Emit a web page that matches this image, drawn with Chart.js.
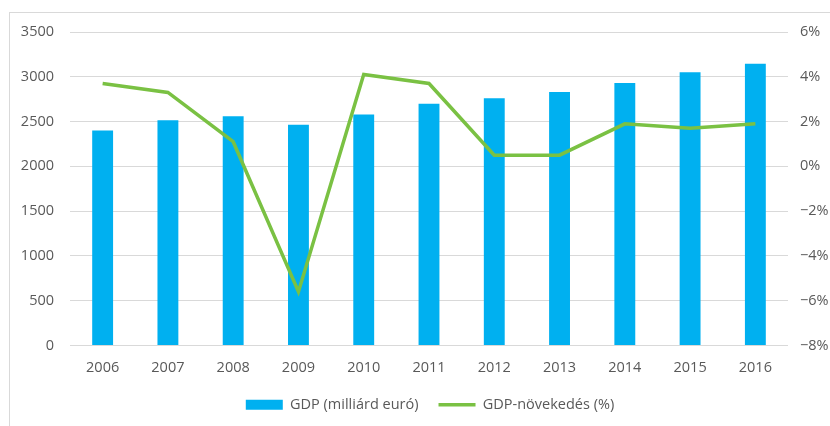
<!DOCTYPE html>
<html>
<head>
<meta charset="utf-8">
<script src="https://cdn.jsdelivr.net/npm/chart.js@4.4.1/dist/chart.umd.min.js"></script>
<style>
  html, body { margin: 0; padding: 0; background: #fff; }
  #wrap { position: relative; width: 830px; height: 426px; }
  #frame { position: absolute; left: 9px; top: 12px; right: 0; bottom: 0;
           border-left: 1px solid #d9d9d9; border-top: 1px solid #d9d9d9; }
  canvas { position: absolute; left: 0; top: 0; }
</style>
</head>
<body>
<div id="wrap">
  <div id="frame"></div>
  <canvas id="gdpChart" width="830" height="426"></canvas>
</div>
<script>
// data
const years = ['2006', '2007', '2008', '2009', '2010', '2011', '2012', '2013', '2014', '2015', '2016'];
const gdpValues = [2400, 2515, 2560, 2465, 2580, 2700, 2760, 2830, 2930, 3050, 3145];
const growthValues = [3.7, 3.3, 1.1, -5.6, 4.1, 3.7, 0.5, 0.5, 1.9, 1.7, 1.9];
const gdpTicks = [0, 500, 1000, 1500, 2000, 2500, 3000, 3500];
const growthTicks = [-8, -6, -4, -2, 0, 2, 4, 6];

const textColor = '#595959';
const tickFont = { family: 'Open Sans', size: 14.5 };

// the legend sits a little right of the canvas centre in the original
const legendShift = {
    id: 'legendShift',
    afterLayout: function (chart) { chart.legend.left += 30; }
};

const ctx = document.getElementById('gdpChart').getContext('2d');
new Chart(ctx, {
    type: 'bar',
    data: {
        labels: years,
        datasets: [
            {
                type: 'line',
                label: 'GDP-növekedés (%)',
                data: growthValues,
                yAxisID: 'y1',
                borderColor: '#7AC143',
                backgroundColor: '#7AC143',
                borderWidth: 3.5,
                pointRadius: 0,
                pointStyle: 'line',
                tension: 0,
                order: 0
            },
            {
                label: 'GDP (milliárd euró)',
                data: gdpValues,
                yAxisID: 'y',
                backgroundColor: '#00B0F0',
                pointStyle: 'rect',
                barPercentage: 0.32,
                categoryPercentage: 1.0,
                order: 1
            }
        ]
    },
    options: {
        responsive: false,
        animation: false,
        layout: { padding: { top: 32, bottom: 4, left: 0, right: 0 } },
        scales: {
            x: {
                offset: true,
                grid: { display: false },
                border: { display: false },
                ticks: { color: textColor, font: tickFont, padding: 6 },
                afterFit: function (scale) { scale.height = 32; }
            },
            y: {
                position: 'left',
                min: gdpTicks[0],
                max: gdpTicks[gdpTicks.length - 1],
                afterBuildTicks: function (scale) { scale.ticks = gdpTicks.map(v => ({ value: v })); },
                grid: { color: '#d9d9d9', lineWidth: 1, drawTicks: false },
                border: { display: false },
                ticks: {
                    color: textColor, font: tickFont, padding: 16,
                    callback: function (v) { return String(v); }
                },
                afterFit: function (scale) { scale.width = 70; }
            },
            y1: {
                position: 'right',
                min: growthTicks[0],
                max: growthTicks[growthTicks.length - 1],
                afterBuildTicks: function (scale) { scale.ticks = growthTicks.map(v => ({ value: v })); },
                grid: { display: false, drawTicks: false },
                border: { display: false },
                ticks: {
                    color: textColor, font: tickFont, padding: 12,
                    callback: function (v) { return (v < 0 ? '\u2212' + Math.abs(v) : v) + '%'; }
                },
                afterFit: function (scale) { scale.width = 42; }
            }
        },
        plugins: {
            legend: {
                position: 'bottom',
                reverse: true,
                labels: {
                    color: textColor,
                    font: tickFont,
                    usePointStyle: true,
                    pointStyleWidth: 37,
                    boxWidth: 37,
                    boxHeight: 10,
                    padding: 20
                }
            },
            tooltip: { enabled: false }
        }
    },
    plugins: [legendShift]
});
</script>
</body>
</html>
